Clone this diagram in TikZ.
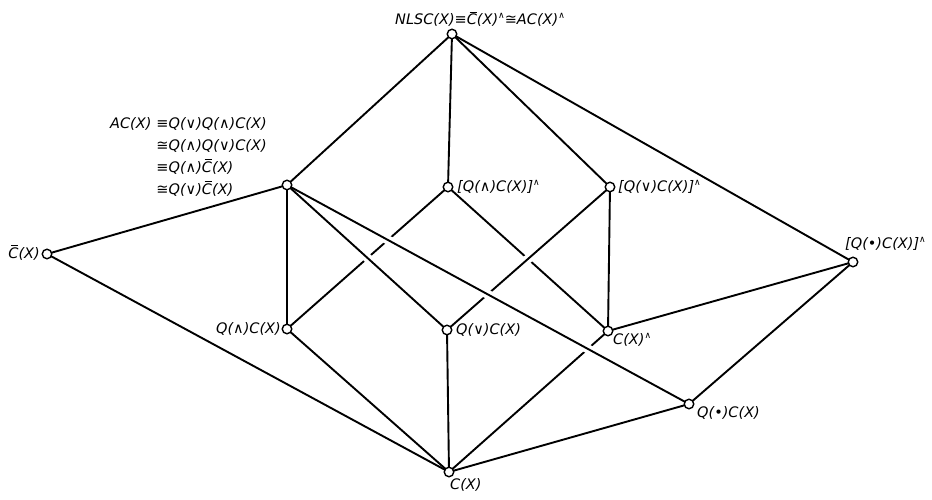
\documentclass[tikz,border=0pt]{standalone}
\usepackage{fontspec}
\setmainfont{DejaVu Sans}
\newcommand\symand{{\upshape ∧}}
\newcommand\symor{{\upshape ∨}}
\newcommand\symdot{{\upshape •}}
\newcommand\symeq{{\upshape ≡}}
\newcommand\symcong{{\upshape ≅}}
\newcommand\Cbar{{\ooalign{C\cr\hidewidth\kern0.18em\rule[0.84em]{0.5em}{0.07em}\hidewidth\cr}}}
\newcommand\hatsup{{\upshape\raisebox{0.42em}{\fontsize{9}{9}\selectfont ∧}}}
\tikzset{
  pt/.style={circle, draw, fill=white, inner sep=0pt, minimum size=9.5pt, line width=1.4pt},
  edge/.style={line width=1.9pt},
  front/.style={edge, preaction={draw=white, line width=9pt, shorten <=26pt, shorten >=26pt}},
  lbl/.style={inner sep=0pt, font=\fontsize{14.5}{22}\selectfont\itshape}
}
\begin{document}
\begin{tikzpicture}[x=1pt,y=-1pt]
\useasboundingbox (0,0) rectangle (932,500);
% lattice points
\coordinate (pTop) at (452,34);
\coordinate (pAC) at (287,185);
\coordinate (pCb) at (47,254);
\coordinate (pQaH) at (448,187);
\coordinate (pQvH) at (610,187);
\coordinate (pQdH) at (853,262);
\coordinate (pQa) at (287,329);
\coordinate (pQv) at (447,330);
\coordinate (pCH) at (608,331);
\coordinate (pQd) at (689,404);
\coordinate (pC) at (449,472);
% plain edges
\draw[edge] (pTop) -- (pAC);
\draw[edge] (pTop) -- (pQaH);
\draw[edge] (pTop) -- (pQvH);
\draw[edge] (pTop) -- (pQdH);
\draw[edge] (pAC) -- (pCb);
\draw[edge] (pAC) -- (pQa);
\draw[edge] (pCb) -- (pC);
\draw[edge] (pQa) -- (pC);
\draw[edge] (pQv) -- (pC);
\draw[edge] (pQd) -- (pC);
\draw[edge] (pQvH) -- (pCH);
\draw[edge] (pQdH) -- (pCH);
\draw[edge] (pQdH) -- (pQd);
\draw[edge] (pQaH) -- (pQa);
\draw[edge] (pQaH) -- (pCH);
\draw[edge] (pCH) -- (pC);
% edges passing in front of others
\draw[front] (pQvH) -- (pQv);
\draw[front] (pAC) -- (pQv);
\draw[front] (pAC) -- (pQd);
% points
\foreach \p in {pTop,pAC,pCb,pQaH,pQvH,pQdH,pQa,pQv,pCH,pQd,pC}
  \node[pt] (n\p) at (\p) {};
% labels
\node[lbl, anchor=base west] (lTop) at (395,25)
  {NLSC(X)\symeq\Cbar(X)\hatsup\symcong AC(X)\hatsup};
\node[lbl, anchor=north west] (lAC) at (110,113)
  {\begin{tabular}{@{}r@{\hspace{5pt}}l@{}}AC(X) & \symeq Q(\symor)Q(\symand)C(X)\\
    & \symcong Q(\symand)Q(\symor)C(X)\\
    & \symeq Q(\symand)\Cbar(X)\\
    & \symcong Q(\symor)\Cbar(X)\end{tabular}};
\node[lbl, anchor=east] (lCb) at (40,254) {\Cbar(X)};
\node[lbl, anchor=west] (lQaH) at (457,187) {[Q(\symand)C(X)]\hatsup};
\node[lbl, anchor=west] (lQvH) at (618,187) {[Q(\symor)C(X)]\hatsup};
\node[lbl, anchor=south west] (lQdH) at (845,251) {[Q(\symdot)C(X)]\hatsup};
\node[lbl, anchor=east] (lQa) at (281,329) {Q(\symand)C(X)};
\node[lbl, anchor=west] (lQv) at (456,330) {Q(\symor)C(X)};
\node[lbl, anchor=north west] (lCH) at (613,333) {C(X)\hatsup};
\node[lbl, anchor=north west] (lQd) at (697,406) {Q(\symdot)C(X)};
\node[lbl, anchor=north west] (lC) at (450,478) {C(X)};
\end{tikzpicture}
\end{document}
